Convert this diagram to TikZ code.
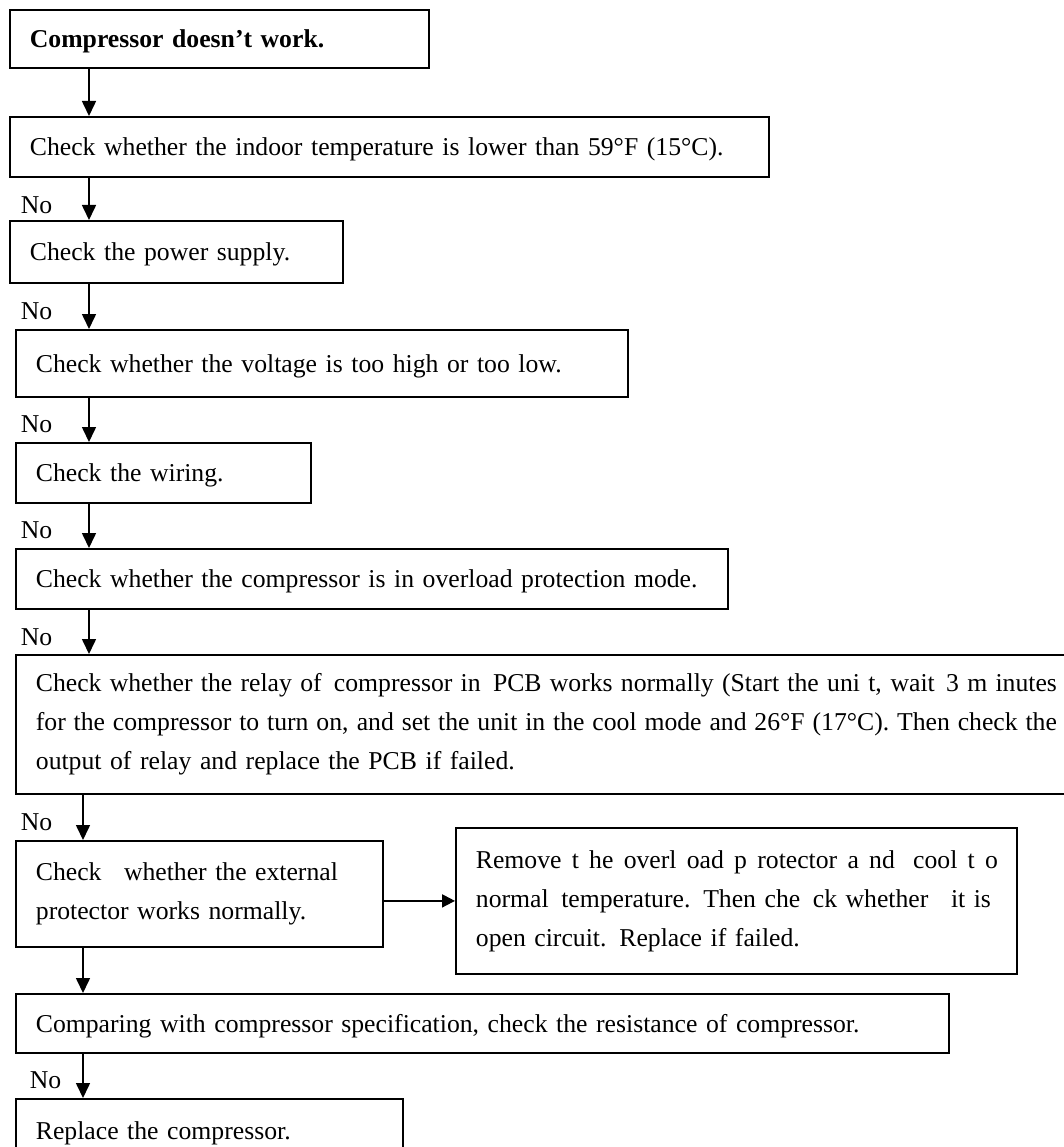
\documentclass[tikz,border=0pt]{standalone}
\usepackage{fontspec}
\setmainfont{Liberation Serif}
\usetikzlibrary{arrows.meta}
% one line of text spread or squeezed to a given width
\newcommand{\fullline}[2]{\leavevmode\hbox to #1{\spaceskip=0.25em plus 1fil minus 0.2em\relax #2}}
\begin{document}
\begin{tikzpicture}[x=1pt,y=-1pt,
  box/.style={draw, line width=1.8pt, anchor=north west, align=left,
    inner xsep=20pt, inner ysep=0pt, font=\fontsize{25.7}{39}\selectfont},
  onebox/.style={box, text depth=0pt},
  arr/.style={line width=1.6pt, -{Triangle[length=15pt,width=14pt]}},
  lbl/.style={font=\fontsize{25.7}{29}\selectfont, anchor=east, inner sep=0pt}]
\useasboundingbox (0,0) rectangle (1064,1147);
\clip (0,0) rectangle (1064,1147);
\fill[white] (0,0) rectangle (1064,1147);

% boxes of the chart, top to bottom
\node[onebox, text width=379pt, minimum height=58pt] (b1) at (9,9)
  {\textbf{Compressor doesn’t work.}};
\node[onebox, text width=719pt, minimum height=60pt] (b2) at (9,116)
  {Check whether the indoor temperature is lower than 59°F (15°C).};
\node[onebox, text width=293pt, minimum height=62pt] (b3) at (9,220)
  {Check the power supply.};
\node[onebox, text width=572pt, minimum height=67pt] (b4) at (15,329)
  {Check whether the voltage is too high or too low.};
\node[onebox, text width=255pt, minimum height=60pt] (b5) at (15,442)
  {Check the wiring.};
\node[onebox, text width=672pt, minimum height=60pt] (b6) at (15,548)
  {Check whether the compressor is in overload protection mode.};
\node[box, text width=1025pt, minimum height=139pt] (b7) at (15,654)
  {\fullline{1021pt}{Check whether the relay of \hspace{4pt}compressor in \hspace{4pt}PCB works normally (Start the uni t, wait \hspace{3pt}3 m inutes}\\
   \fullline{1021pt}{for the compressor to turn on, and set the unit in the cool mode and 26°F (17°C). Then check the}\\
   output of relay and replace the PCB if failed.};
\node[box, text width=327pt, minimum height=106pt] (b8) at (15,840)
  {\fullline{302pt}{Check \hspace{14pt}whether the external}\\
   protector works normally.};
\node[box, text width=521pt, minimum height=146pt] (b9) at (455,827)
  {\fullline{522pt}{Remove t he overl oad p rotector a nd \hspace{8pt}cool t o}\\
   \fullline{515pt}{normal \hspace{4pt}temperature. Then che \hspace{4pt}ck whether \hspace{14pt}it is}\\
   open circuit. Replace if failed.};
\node[onebox, text width=893pt, minimum height=59pt] (b10) at (15,993)
  {Comparing with compressor specification, check the resistance of compressor.};
\node[onebox, text width=347pt, minimum height=64pt] (b11) at (15,1098)
  {Replace the compressor.};

% connectors
\draw[arr] ([xshift=80pt]b1.south west) -- ([xshift=80pt]b2.north west);
\draw[arr] ([xshift=80pt]b2.south west) -- ([xshift=80pt]b3.north west)
  node[lbl, pos=0.66, xshift=-36pt] {No};
\draw[arr] ([xshift=80pt]b3.south west) -- ([xshift=74pt]b4.north west)
  node[lbl, pos=0.6, xshift=-36pt] {No};
\draw[arr] ([xshift=74pt]b4.south west) -- ([xshift=74pt]b5.north west)
  node[lbl, pos=0.6, xshift=-36pt] {No};
\draw[arr] ([xshift=74pt]b5.south west) -- ([xshift=74pt]b6.north west)
  node[lbl, pos=0.6, xshift=-36pt] {No};
\draw[arr] ([xshift=74pt]b6.south west) -- ([xshift=74pt]b7.north west)
  node[lbl, pos=0.63, xshift=-36pt] {No};
\draw[arr] ([xshift=68pt]b7.south west) -- ([xshift=68pt]b8.north west)
  node[lbl, pos=0.6, xshift=-30pt] {No};
\draw[arr, line width=2pt, -{Triangle[length=13pt,width=13pt]}]
  (b8.east |- b9.west) -- (b9.west);
\draw[arr] ([xshift=68pt]b8.south west) -- ([xshift=68pt]b10.north west);
\draw[arr] ([xshift=68pt]b10.south west) -- ([xshift=68pt]b11.north west)
  node[lbl, pos=0.6, xshift=-21pt] {No};
\end{tikzpicture}
\end{document}
